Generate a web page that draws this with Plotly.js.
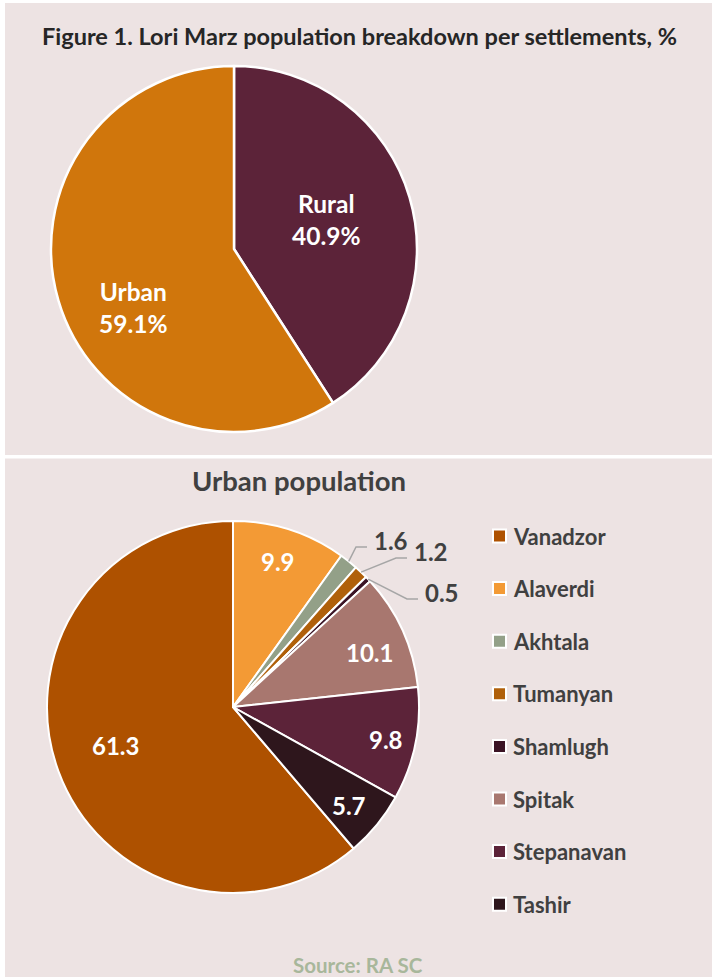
<!DOCTYPE html>
<html><head><meta charset="utf-8">
<script src="https://cdn.plot.ly/plotly-3.0.1.min.js"></script>
<style>html,body{margin:0;padding:0;background:#fff}#chart{width:712px;height:977px}</style>
</head><body><div id="chart"></div>
<script>
// ---------- data ----------
const settlementLabels = ['Rural', 'Urban'];
const settlementValues = [40.9, 59.1];
const cityLabels = ['Vanadzor', 'Alaverdi', 'Akhtala', 'Tumanyan', 'Shamlugh', 'Spitak', 'Stepanavan', 'Tashir'];
const cityValues = [61.3, 9.9, 1.6, 1.2, 0.5, 10.1, 9.8, 5.7];
const titleMain = 'Figure 1. Lori Marz population breakdown per settlements, %';
const titleUrban = 'Urban population';
const sourceText = 'Source: RA SC';

// ---------- style ----------
const W = 712, H = 977;
const FONT = 'Lato, "Open Sans", sans-serif';
const BG = '#EDE3E3';
const settlementColors = ['#5C2339', '#D0760C'];
const cityColors = ['#AE5100', '#F39A35', '#93A088', '#B0600A', '#3B1425', '#A8776F', '#5C2339', '#2E161C'];
const pie1 = {cx: 234, cy: 249, R: 183};
const pie2 = {cx: 233, cy: 707, R: 186};
// inner label placement: radius fraction + angle tweak (deg)
const settlementLabelPos = [{r: 0.53, da: -1.2}, {r: 0.633, da: -13.9}];
const cityLabelPos = [
  {r: 0.667, da: 2.2}, {r: 0.82, da: -0.7}, null, null, null,
  {r: 0.79, da: 2.5}, {r: 0.84, da: 0.4}, {r: 0.817, da: 0.9}
];
// outside labels: text left / centre-y offset from pie centre (px)
const cityOutside = [null, null, {dx: 139, dy: -167}, {dx: 179, dy: -156}, {dx: 190, dy: -115}, null, null, null];

function domainOf(p) {
  return {x: [(p.cx - p.R) / W, (p.cx + p.R) / W], y: [1 - (p.cy + p.R) / H, 1 - (p.cy - p.R) / H]};
}
const px = x => x / W;
const py = y => 1 - y / H;

function midAngles(values, rotation) {
  const tot = values.reduce((a, b) => a + b, 0);
  let cum = 0;
  return values.map(v => { const m = rotation + (cum + v / 2) / tot * 360; cum += v; return m; });
}
function polar(p, angDeg, r) {
  const a = angDeg * Math.PI / 180;
  return [p.cx + r * Math.sin(a), p.cy - r * Math.cos(a)];
}

const totalCity = cityValues.reduce((a, b) => a + b, 0);
const rot1 = 0;
const rot2 = 360 - cityValues[0] / totalCity * 360;

const traces = [
  {
    type: 'pie', labels: settlementLabels, values: settlementValues, sort: false,
    direction: 'clockwise', rotation: rot1, domain: domainOf(pie1),
    marker: {colors: settlementColors, line: {color: '#ffffff', width: 2.5}},
    textinfo: 'none', hoverinfo: 'label+percent', showlegend: false
  },
  {
    type: 'pie', labels: cityLabels, values: cityValues, sort: false,
    direction: 'clockwise', rotation: rot2, domain: domainOf(pie2),
    marker: {colors: cityColors, line: {color: '#ffffff', width: 2}},
    textinfo: 'none', hoverinfo: 'label+value', showlegend: false
  }
];

const shapes = [
  {type: 'rect', xref: 'paper', yref: 'paper', x0: px(5), x1: px(712), y0: py(455), y1: py(3), fillcolor: BG, line: {width: 0}, layer: 'below'},
  {type: 'rect', xref: 'paper', yref: 'paper', x0: px(5), x1: px(712), y0: py(977), y1: py(458.5), fillcolor: BG, line: {width: 0}, layer: 'below'}
];
const annotations = [
  {text: '<b>' + titleMain + '</b>', x: px(359), y: py(36), xref: 'paper', yref: 'paper', showarrow: false,
   xanchor: 'center', yanchor: 'middle', font: {family: FONT, size: 23.5, color: '#262626'}},
  {text: '<b>' + titleUrban + '</b>', x: px(299), y: py(481), xref: 'paper', yref: 'paper', showarrow: false,
   xanchor: 'center', yanchor: 'middle', font: {family: FONT, size: 27.5, color: '#404040'}},
  {text: '<b>' + sourceText + '</b>', x: px(358), y: py(965), xref: 'paper', yref: 'paper', showarrow: false,
   xanchor: 'center', yanchor: 'middle', font: {family: FONT, size: 20.5, color: '#A8B79B'}}
];

// pie 1 labels
midAngles(settlementValues, rot1).forEach((m, i) => {
  const lp = settlementLabelPos[i];
  const [x, y] = polar(pie1, m + lp.da, lp.r * pie1.R);
  annotations.push({text: '<b>' + settlementLabels[i] + '<br>' + settlementValues[i].toFixed(1) + '%</b>',
    x: px(x), y: py(y), xref: 'paper', yref: 'paper', showarrow: false, xanchor: 'center', yanchor: 'middle',
    font: {family: FONT, size: 24.5, color: '#ffffff'}});
});

// pie 2 labels
midAngles(cityValues, rot2).forEach((m, i) => {
  const lp = cityLabelPos[i];
  if (lp) {
    const [x, y] = polar(pie2, m + lp.da, lp.r * pie2.R);
    annotations.push({text: '<b>' + cityValues[i].toFixed(1) + '</b>', x: px(x), y: py(y), xref: 'paper', yref: 'paper',
      showarrow: false, xanchor: 'center', yanchor: 'middle', font: {family: FONT, size: 24, color: '#ffffff'}});
  }
  const op = cityOutside[i];
  if (op) {
    const tx = pie2.cx + op.dx, ty = pie2.cy + op.dy;
    annotations.push({text: '<b>' + cityValues[i].toFixed(1) + '</b>', x: px(tx), y: py(ty), xref: 'paper', yref: 'paper',
      showarrow: false, xanchor: 'left', yanchor: 'middle', font: {family: FONT, size: 24, color: '#404040'}});
    const [ex, ey] = polar(pie2, m, pie2.R);
    const ly = ty + 7;
    shapes.push({type: 'path', xref: 'paper', yref: 'paper', layer: 'above',
      path: `M${px(ex)},${py(ey)} L${px(tx - 16)},${py(ly)} L${px(tx - 5)},${py(ly)}`,
      line: {color: '#A6A6A6', width: 1.5}});
  }
});

// manual legend
const legX = 493, legY0 = 536, legStep = 52.6, sq = 13;
cityLabels.forEach((lab, i) => {
  const yc = legY0 + i * legStep;
  shapes.push({type: 'rect', xref: 'paper', yref: 'paper', x0: px(legX), x1: px(legX + sq), y0: py(yc + sq / 2), y1: py(yc - sq / 2),
    fillcolor: cityColors[i], line: {color: '#ffffff', width: 2}});
  annotations.push({text: '<b>' + lab + '</b>', x: px(legX + 18), y: py(yc), xref: 'paper', yref: 'paper', showarrow: false,
    xanchor: 'left', yanchor: 'middle', font: {family: FONT, size: 22, color: '#404040'}});
});

const layout = {
  width: W, height: H, margin: {l: 0, r: 0, t: 0, b: 0},
  paper_bgcolor: '#ffffff', showlegend: false,
  shapes: shapes, annotations: annotations
};
Plotly.newPlot('chart', traces, layout, {displayModeBar: false, staticPlot: true});
</script>
</body></html>
